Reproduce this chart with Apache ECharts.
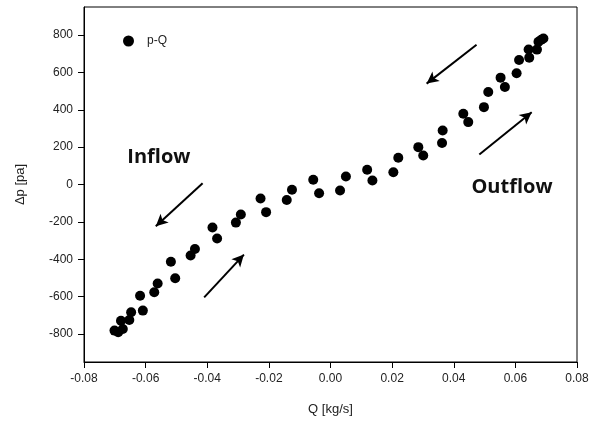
<!DOCTYPE html>
<html>
<head>
<meta charset="utf-8">
<script src="https://cdn.jsdelivr.net/npm/echarts@6/dist/echarts.min.js"></script>
<style>html,body{margin:0;padding:0;background:#fff;}#c{width:599px;height:424px;}</style>
</head>
<body>
<div id="c"></div>
<script>
// Q [kg/s]
var qValues = [-0.0701,-0.0689,-0.0674,-0.0680,-0.0653,-0.0647,-0.0618,-0.0609,-0.0572,-0.0561,
  -0.0518,-0.0504,-0.0454,-0.0440,-0.0383,-0.0368,-0.0307,-0.0291,-0.0227,-0.0209,
  -0.0142,-0.0125,-0.0056,-0.0037,0.0031,0.0050,0.0119,0.0136,0.0204,0.0220,
  0.0285,0.0301,0.0362,0.0364,0.0431,0.0447,0.0498,0.0512,0.0552,0.0566,
  0.0604,0.0612,0.0645,0.0643,0.0670,0.0675,0.0691,0.0684];
// Δp [pa]
var pValues = [-782,-791,-773,-729,-725,-684,-595,-675,-577,-530,
  -413,-502,-380,-345,-230,-289,-204,-161,-75,-148,
  -83,-28,25,-47,-32,43,79,21,66,143,
  200,155,222,289,379,334,414,495,572,522,
  595,666,679,723,722,764,781,775];
var seriesName = 'p-Q';
var xTicks = [-0.08,-0.06,-0.04,-0.02,0.00,0.02,0.04,0.06,0.08];
var yTicks = [-800,-600,-400,-200,0,200,400,600,800];
// annotation arrows [tailQ, tailP, tipQ, tipP]
var arrows = [
  [0.0474, 748, 0.0312, 540],
  [0.0483, 161, 0.0653, 387],
  [-0.0415, 7, -0.0567, -223],
  [-0.0410, -604, -0.0281, -375]
];
var annotations = [
  {text: 'Inflow', q: -0.0557, p: 145},
  {text: 'Outflow', q: 0.0589, p: -15}
];

var points = qValues.map(function(q, i){ return [q, pValues[i]]; });
var chart = echarts.init(document.getElementById('c'));
var labelFont = {fontFamily: 'Liberation Sans, Arial, sans-serif', fontSize: 12, color: '#222'};

chart.setOption({
  animation: false,
  backgroundColor: '#fff',
  grid: {left: 84, right: 22, top: 7, bottom: 62, show: true, borderColor: '#000', borderWidth: 1},
  legend: {
    data: [seriesName], left: 118, top: 30, icon: 'circle', itemWidth: 11, itemHeight: 11,
    textStyle: {fontFamily: 'Liberation Sans, Arial, sans-serif', fontSize: 12, color: '#222', padding: [0,0,0,8]}
  },
  xAxis: {
    type: 'value', min: xTicks[0], max: xTicks[xTicks.length-1], interval: 0.02,
    name: 'Q [kg/s]', nameLocation: 'middle', nameGap: 41,
    nameTextStyle: {fontFamily: 'Liberation Sans, Arial, sans-serif', fontSize: 13, color: '#222'},
    axisLine: {onZero: false, lineStyle: {color: '#000', width: 1}},
    axisTick: {show: true, inside: false, length: 6, lineStyle: {color: '#000'}},
    axisLabel: Object.assign({margin: 11, formatter: function(v){ return v.toFixed(2); }}, labelFont),
    splitLine: {show: false}
  },
  yAxis: {
    type: 'value', min: -950, max: 950,
    name: '\u0394p [pa]', nameLocation: 'middle', nameGap: 57,
    nameTextStyle: {fontFamily: 'Liberation Sans, Arial, sans-serif', fontSize: 13, color: '#222'},
    axisLine: {show: true, onZero: false, lineStyle: {color: '#000', width: 1}},
    axisTick: {show: true, inside: false, length: 6, customValues: yTicks, lineStyle: {color: '#000'}},
    axisLabel: Object.assign({margin: 11, customValues: yTicks}, labelFont),
    splitLine: {show: false}
  },
  series: [
    {
      name: seriesName, type: 'scatter', data: points, symbol: 'circle', symbolSize: 10,
      itemStyle: {color: '#000', opacity: 1},
      markLine: {
        silent: true, symbol: ['none', 'arrow'], symbolSize: [9, 12],
        lineStyle: {color: '#000', width: 2, type: 'solid'},
        label: {show: false},
        data: arrows.map(function(a){ return [{coord: [a[0], a[1]]}, {coord: [a[2], a[3]]}]; })
      },
      markPoint: {
        silent: true, symbol: 'circle', symbolSize: 0,
        label: {show: true, fontFamily: 'Open Sans, Lato, sans-serif', fontWeight: 'bold', fontSize: 20, color: '#111', position: 'inside'},
        data: annotations.map(function(a){ return {coord: [a.q, a.p], value: a.text, label: {formatter: a.text}}; })
      }
    }
  ]
});
</script>
</body>
</html>
